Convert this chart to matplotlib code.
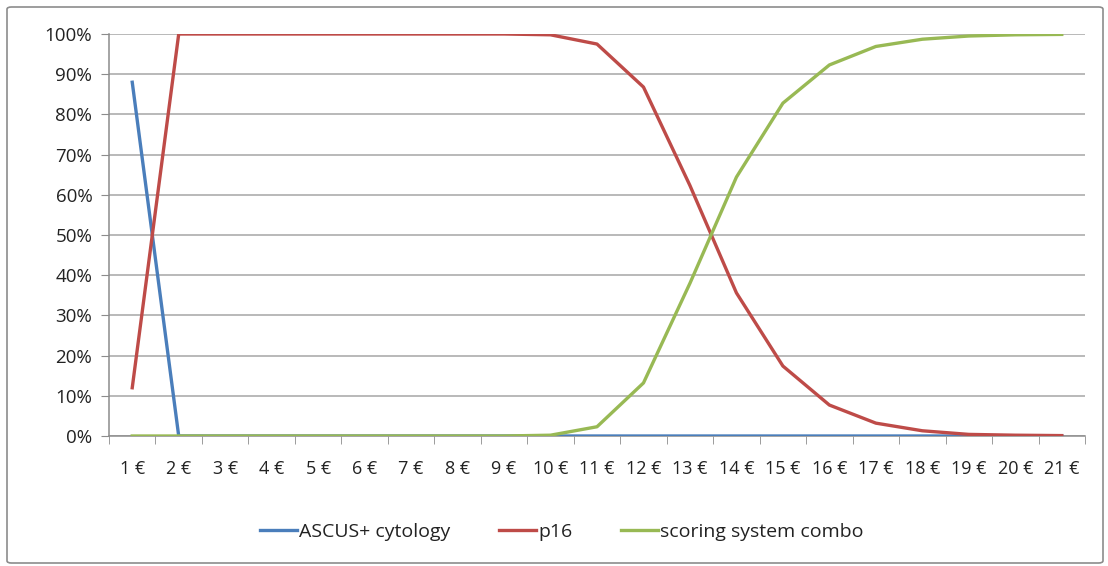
import matplotlib.pyplot as plt
from matplotlib.patches import FancyBboxPatch
from matplotlib.ticker import FixedLocator, PercentFormatter

plt.rcParams['font.family'] = ['Open Sans', 'DejaVu Sans']

# --- data ---
categories = [f'{i} €' for i in range(1, 22)]
ascus = [88, 0, 0, 0, 0, 0, 0, 0, 0, 0, 0, 0, 0, 0, 0, 0, 0, 0, 0, 0, 0]
p16 = [12, 100, 100, 100, 100, 100, 100, 100, 100, 99.8, 97.5, 86.8, 62.3,
       35.6, 17.4, 7.7, 3.2, 1.3, 0.4, 0.2, 0.1]
combo = [0, 0, 0, 0, 0, 0, 0, 0, 0, 0.2, 2.3, 13.2, 38.0, 64.4, 82.8, 92.3,
         96.9, 98.7, 99.5, 99.8, 99.9]

fig = plt.figure(figsize=(11.08, 5.66), dpi=100)

# outer chart border
border = FancyBboxPatch((7 / 1108, 3 / 566), 1096 / 1108, 556 / 566,
                        boxstyle='round,pad=0,rounding_size=0.004',
                        transform=fig.transFigure, fill=False,
                        edgecolor='#8c8c8c', linewidth=1.2)
fig.patches.append(border)

ax = fig.add_axes([109 / 1108, 1 - 436 / 566, (1085 - 109) / 1108, (436 - 34) / 566])

x = list(range(1, 22))
ax.plot(x, ascus, color='#4A7EBB', lw=2.4, label='ASCUS+ cytology', zorder=3)
ax.plot(x, p16, color='#BE4B48', lw=2.4, label='p16', zorder=3)
ax.plot(x, combo, color='#98B954', lw=2.4, label='scoring system combo', zorder=3)

ax.set_xlim(0.5, 21.5)
ax.set_ylim(0, 100)
ax.set_yticks(range(0, 101, 10))
ax.yaxis.set_major_formatter(PercentFormatter(decimals=0))
ax.set_xticks(x)
ax.set_xticklabels(categories)
ax.xaxis.set_minor_locator(FixedLocator([i + 0.5 for i in range(0, 22)]))
ax.tick_params(axis='x', which='major', length=0, pad=17, labelsize=13, colors='#222222')
ax.tick_params(axis='x', which='minor', length=6, color='#8c8c8c')
ax.tick_params(axis='y', length=6, color='#8c8c8c', labelsize=13.5, pad=6)
ax.tick_params(axis='y', labelcolor='#222222')

ax.grid(axis='y', color='#a6a6a6', lw=1.1, zorder=0)
for s in ['top', 'right']:
    ax.spines[s].set_visible(False)
for s in ['left', 'bottom']:
    ax.spines[s].set_color('#8c8c8c')
    ax.spines[s].set_linewidth(1.1)

fig.legend(loc='center', bbox_to_anchor=(0.507, 1 - 532 / 566), ncol=3,
           frameon=False, fontsize=14, handlelength=1.9, handletextpad=0.1,
           columnspacing=2.5, labelcolor='#222222')

fig.savefig('out.png', dpi=100)
